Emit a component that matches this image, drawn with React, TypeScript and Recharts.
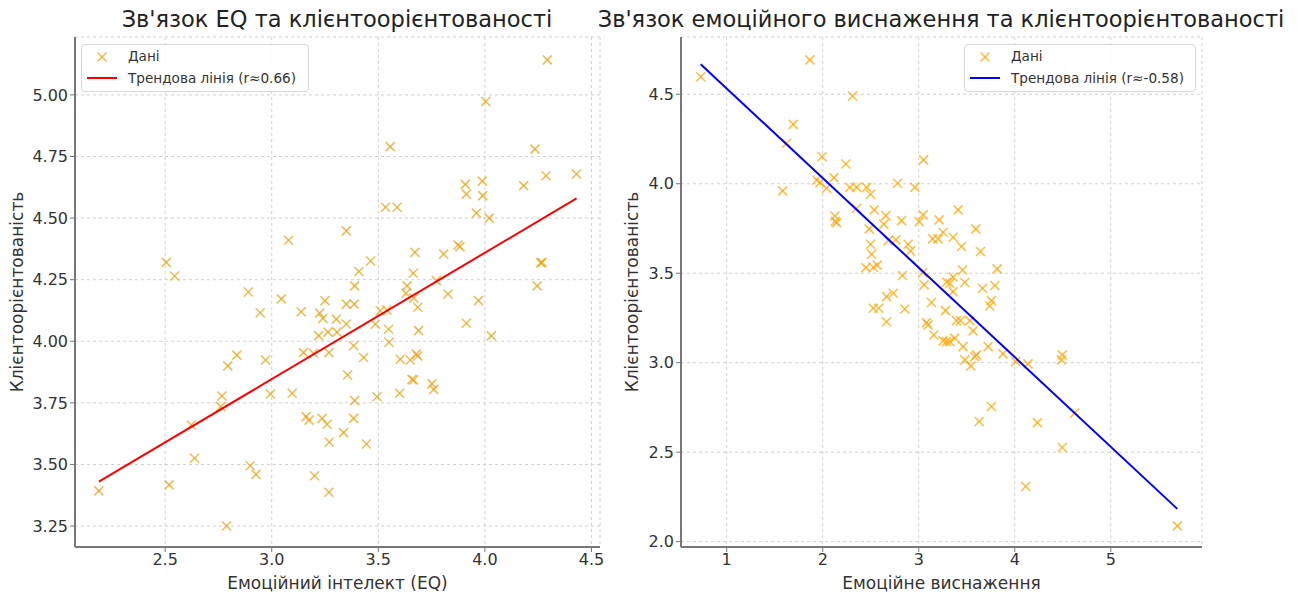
import { ScatterChart, Scatter, XAxis, YAxis, CartesianGrid, Label } from 'recharts';

// left panel: EQ vs client orientation
const eqScore = [
  2.505, 2.544, 3.079, 2.89, 4.293, 4.004, 3.556, 4.235, 4.287, 4.43,
  4.182, 3.908, 3.913, 3.988, 3.99, 3.534, 3.588, 3.96, 4.02, 3.35,
  3.464, 3.409, 3.672, 3.807, 3.874, 3.883, 4.268, 4.262, 3.389, 3.664,
  3.635, 3.772, 4.245, 3.045, 2.946, 3.138, 3.25, 3.225, 3.24, 3.303,
  3.22, 3.264, 3.306, 3.149, 3.196, 3.268, 2.836, 2.794, 2.971, 2.766,
  2.761, 2.994, 3.096, 2.622, 3.162, 3.175, 3.236, 3.26, 3.27, 2.638,
  2.899, 2.926, 3.201, 2.189, 2.519, 3.268, 2.788, 3.63, 3.666, 3.685,
  3.827, 3.97, 3.35, 3.387, 3.35, 3.509, 3.54, 3.486, 3.548, 3.689,
  3.913, 4.03, 3.384, 3.55, 3.431, 3.603, 3.65, 3.678, 3.685, 3.356,
  3.658, 3.666, 3.752, 3.76, 3.494, 3.6, 3.389, 3.384, 3.337, 3.444,
];
const eqClient = [
  4.32, 4.265, 4.41, 4.2, 5.142, 4.973, 4.79, 4.78, 4.672, 4.679,
  4.632, 4.637, 4.597, 4.65, 4.591, 4.544, 4.544, 4.52, 4.5, 4.448,
  4.326, 4.283, 4.361, 4.354, 4.391, 4.384, 4.32, 4.318, 4.225, 4.276,
  4.225, 4.246, 4.225, 4.172, 4.116, 4.12, 4.165, 4.114, 4.093, 4.09,
  4.023, 4.037, 4.037, 3.954, 3.951, 3.954, 3.944, 3.9, 3.924, 3.778,
  3.735, 3.786, 3.789, 3.66, 3.694, 3.68, 3.687, 3.663, 3.59, 3.525,
  3.495, 3.46, 3.454, 3.393, 3.417, 3.387, 3.25, 4.195, 4.175, 4.138,
  4.192, 4.165, 4.151, 4.151, 4.07, 4.124, 4.127, 4.069, 4.049, 4.043,
  4.073, 4.022, 3.982, 3.996, 3.934, 3.927, 3.924, 3.948, 3.94, 3.863,
  3.845, 3.843, 3.827, 3.805, 3.775, 3.789, 3.759, 3.687, 3.629, 3.583,
];
const eqTrendX = [2.189, 4.43];
const eqTrendY = [3.43, 4.58];

// right panel: burnout vs client orientation
const burnScore = [
  0.729, 1.867, 2.311, 1.693, 1.624, 1.992, 2.241, 3.05, 2.117, 1.937,
  1.971, 2.04, 1.583, 2.283, 2.353, 2.457, 2.498, 2.779, 2.96, 2.353,
  2.536, 2.127, 2.145, 2.13, 2.658, 2.637, 2.484, 2.821, 3.004, 3.046,
  3.212, 3.254, 3.144, 3.202, 2.762, 2.682, 2.89, 2.915, 2.498, 2.509,
  2.45, 2.526, 2.567, 2.831, 3.04, 3.056, 3.29, 2.526, 2.585, 2.665,
  2.734, 2.665, 2.855, 3.133, 3.081, 3.098, 3.157, 3.254, 3.289, 3.279,
  3.48, 3.358, 3.664, 3.792, 3.757, 3.74, 3.393, 3.435, 3.532, 3.566,
  3.324, 3.376, 3.462, 3.722, 3.601, 3.584, 3.48, 3.542, 3.878, 4.01,
  4.138, 4.496, 4.486, 4.624, 3.757, 3.629, 4.236, 4.496, 4.114, 5.693,
  3.41, 3.358, 3.445, 3.594, 3.643, 3.816, 3.456, 3.358, 3.324,
];
const burnClient = [
  4.598, 4.692, 4.49, 4.332, 4.226, 4.151, 4.11, 4.133, 4.034, 4.021,
  4.006, 3.975, 3.96, 3.98, 3.98, 3.98, 3.941, 4.003, 3.98, 3.863,
  3.854, 3.82, 3.783, 3.79, 3.822, 3.774, 3.748, 3.794, 3.788, 3.826,
  3.798, 3.729, 3.692, 3.692, 3.686, 3.682, 3.662, 3.625, 3.662, 3.606,
  3.531, 3.533, 3.545, 3.487, 3.503, 3.435, 3.45, 3.304, 3.304, 3.369,
  3.388, 3.229, 3.3, 3.336, 3.224, 3.211, 3.155, 3.122, 3.118, 3.291,
  3.448, 3.397, 3.416, 3.431, 3.347, 3.317, 3.235, 3.235, 3.235, 3.178,
  3.118, 3.137, 3.09, 3.09, 3.044, 3.034, 3.016, 2.982, 3.049, 3.006,
  2.993, 3.044, 3.016, 2.718, 2.755, 2.671, 2.665, 2.526, 2.308, 2.088,
  3.854, 3.701, 3.649, 3.748, 3.621, 3.524, 3.518, 3.478, 3.444,
];
const burnTrendX = [0.729, 5.693];
const burnTrendY = [4.668, 2.183];

const eqXTicks = [2.5, 3.0, 3.5, 4.0, 4.5];
const eqYTicks = [3.25, 3.5, 3.75, 4.0, 4.25, 4.5, 4.75, 5.0];
const burnXTicks = [1, 2, 3, 4, 5];
const burnYTicks = [2.0, 2.5, 3.0, 3.5, 4.0, 4.5];

const zip = (xs: number[], ys: number[]) => xs.map((x, i) => ({ x, y: ys[i] }));

const FONT = 'DejaVu Sans, sans-serif';
const LEFT_MARK = '#E8A317';
const RIGHT_MARK = '#FFA500';
const SPINE = '#777';
const TEXT = '#333';

const makeCross = (color: string) => (props: any) => {
  const { cx, cy } = props;
  const r = 4.5;
  return (
    <g stroke={color} strokeOpacity={0.72} strokeWidth={1.6}>
      <line x1={cx - r} y1={cy - r} x2={cx + r} y2={cy + r} />
      <line x1={cx - r} y1={cy + r} x2={cx + r} y2={cy - r} />
    </g>
  );
};
const LeftCross = makeCross(LEFT_MARK);
const RightCross = makeCross(RIGHT_MARK);

const NoDot = () => <g />;

const LegendBox = ({ left, top, width, color, mark, label }: any) => {
  const Mark = makeCross(mark);
  return (
    <div
      style={{
        position: 'absolute', left, top, width, height: 48,
        border: '1px solid #d8d8d8', borderRadius: 4, background: 'rgba(255,255,255,0.85)',
        fontFamily: FONT, fontSize: 13.6, color: TEXT, boxSizing: 'border-box',
      }}
    >
      <svg width={40} height={46} style={{ position: 'absolute', left: 0, top: 0 }}>
        <Mark cx={20} cy={12} />
        <line x1={5} y1={33} x2={35} y2={33} stroke={color} strokeWidth={2} />
      </svg>
      <div style={{ position: 'absolute', left: 46, top: 3 }}>Дані</div>
      <div style={{ position: 'absolute', left: 46, top: 25, whiteSpace: 'nowrap' }}>{label}</div>
    </div>
  );
};

const tickStyle = { fontSize: 16, fill: TEXT, fontFamily: FONT };
const labelStyle = { fontSize: 17, fill: TEXT, fontFamily: FONT };

export default function App() {
  const eqData = zip(eqScore, eqClient);
  const eqTrend = zip(eqTrendX, eqTrendY);
  const burnData = zip(burnScore, burnClient);
  const burnTrend = zip(burnTrendX, burnTrendY);

  return (
    <div style={{ position: 'absolute', left: 0, top: 0, width: 1302, height: 594, background: '#fff', fontFamily: FONT }}>
      <div style={{ position: 'absolute', left: 37, width: 600, top: 6, textAlign: 'center', fontSize: 22.5, color: '#222', whiteSpace: 'nowrap' }}>
        Зв'язок EQ та клієнтоорієнтованості
      </div>
      <div style={{ position: 'absolute', left: 541, width: 800, top: 6, textAlign: 'center', fontSize: 22.5, color: '#222', whiteSpace: 'nowrap' }}>
        Зв'язок емоційного виснаження та клієнтоорієнтованості
      </div>

      <div style={{ position: 'absolute', left: 0, top: 0 }}>
        <ScatterChart width={620} height={594} margin={{ top: 37, right: 20, bottom: 0, left: 0 }}>
          <CartesianGrid stroke="#d0d0d0" strokeDasharray="3 3" />
          <XAxis
            type="number" dataKey="x" domain={[2.077, 4.54]} ticks={eqXTicks} allowDataOverflow
            tickFormatter={(v: number) => v.toFixed(1)} height={47} tick={tickStyle}
            tickSize={5} tickMargin={2} stroke={SPINE} axisLine={{ stroke: SPINE, strokeWidth: 2 }}
          >
            <Label value="Емоційний інтелект (EQ)" position="insideBottom" offset={5} style={labelStyle} />
          </XAxis>
          <YAxis
            type="number" dataKey="y" domain={[3.165, 5.235]} ticks={eqYTicks} allowDataOverflow
            tickFormatter={(v: number) => v.toFixed(2)} width={75} tick={tickStyle}
            tickSize={5} tickMargin={2} stroke={SPINE} axisLine={{ stroke: SPINE, strokeWidth: 2 }}
          >
            <Label value="Клієнтоорієнтованість" angle={-90} position="insideLeft" offset={17} style={{ ...labelStyle, textAnchor: 'middle' }} />
          </YAxis>
          <Scatter data={eqData} shape={<LeftCross />} isAnimationActive={false} />
          <Scatter data={eqTrend} shape={<NoDot />} line={{ stroke: '#FF0000', strokeWidth: 2 }} isAnimationActive={false} />
        </ScatterChart>
      </div>

      <div style={{ position: 'absolute', left: 610, top: 0 }}>
        <ScatterChart width={692} height={594} margin={{ top: 37, right: 100, bottom: 0, left: 0 }}>
          <CartesianGrid stroke="#d0d0d0" strokeDasharray="3 3" />
          <XAxis
            type="number" dataKey="x" domain={[0.524, 5.95]} ticks={burnXTicks} allowDataOverflow
            height={47} tick={tickStyle}
            tickSize={5} tickMargin={2} stroke={SPINE} axisLine={{ stroke: SPINE, strokeWidth: 2 }}
          >
            <Label value="Емоційне виснаження" position="insideBottom" offset={5} style={labelStyle} />
          </XAxis>
          <YAxis
            type="number" dataKey="y" domain={[1.97, 4.82]} ticks={burnYTicks} allowDataOverflow
            tickFormatter={(v: number) => v.toFixed(1)} width={71} tick={tickStyle}
            tickSize={5} tickMargin={2} stroke={SPINE} axisLine={{ stroke: SPINE, strokeWidth: 2 }}
          >
            <Label value="Клієнтоорієнтованість" angle={-90} position="insideLeft" offset={22} style={{ ...labelStyle, textAnchor: 'middle' }} />
          </YAxis>
          <Scatter data={burnData} shape={<RightCross />} isAnimationActive={false} />
          <Scatter data={burnTrend} shape={<NoDot />} line={{ stroke: '#0000FF', strokeWidth: 2 }} isAnimationActive={false} />
        </ScatterChart>
      </div>

      <LegendBox left={81} top={44} width={228} color="#FF0000" mark={LEFT_MARK} label="Трендова лінія (r≈0.66)" />
      <LegendBox left={964} top={44} width={232} color="#0000FF" mark={RIGHT_MARK} label="Трендова лінія (r≈-0.58)" />
    </div>
  );
}
